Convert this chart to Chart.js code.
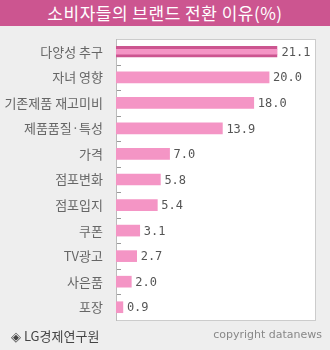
<!DOCTYPE html>
<html>
<head>
<meta charset="utf-8">
<script src="https://cdn.jsdelivr.net/npm/chart.js@4"></script>
<style>
  html, body { margin: 0; padding: 0; background: #eeeeee; }
  #wrap { position: relative; width: 330px; height: 350px; overflow: hidden; }
  #title {
    position: absolute; left: 0; top: 0; width: 330px; height: 26px;
    background: #cc5590; color: #fff; text-align: center;
    font: 17px "Noto Sans CJK KR", sans-serif; line-height: 26px; letter-spacing: 0.5px;
  }
  #src { position: absolute; left: 11px; top: 326px; font: 13px "Noto Sans CJK KR", sans-serif; color: #444; }
  #copy { position: absolute; right: 8px; top: 328px; font: 11px "DejaVu Sans", sans-serif; color: #888; }
  canvas { position: absolute; left: 0; top: 0; }
</style>
</head>
<body>
<div id="wrap">
  <canvas id="barChart" width="330" height="350"></canvas>
  <div id="title">소비자들의 브랜드 전환 이유(%)</div>
  <div id="src">◈ LG경제연구원</div>
  <div id="copy">copyright datanews</div>
</div>
<script>
const categories = ["다양성 추구", "자녀 영향", "기존제품 재고미비", "제품품질·특성", "가격",
    "점포변화", "점포입지", "쿠폰", "TV광고", "사은품", "포장"];
const shares = [21.1, 20.0, 18.0, 13.9, 7.0, 5.8, 5.4, 3.1, 2.7, 2.0, 0.9];

// white plot box, frame and small inner tick marks
const plotFrame = {
    id: "plotFrame",
    beforeDraw(chart) {
        const { ctx, chartArea: a } = chart;
        ctx.save();
        ctx.fillStyle = "#ffffff";
        ctx.fillRect(a.left, a.top, a.right - a.left, a.bottom - a.top);
        ctx.strokeStyle = "#cccccc";
        ctx.lineWidth = 1;
        ctx.strokeRect(a.left + 0.5, a.top + 0.5, a.right - a.left, a.bottom - a.top);
        ctx.strokeStyle = "#bbbbbb";
        ctx.beginPath();
        ctx.moveTo(a.left + 0.5, a.top);
        ctx.lineTo(a.left + 0.5, a.bottom + 1);
        ctx.stroke();
        const y = chart.scales.y;
        ctx.strokeStyle = "#999999";
        ctx.beginPath();
        for (let i = 0; i < categories.length - 1; i++) {
            const py = Math.round((y.getPixelForValue(i) + y.getPixelForValue(i + 1)) / 2) + 0.5;
            ctx.moveTo(a.left + 1, py);
            ctx.lineTo(a.left + 5, py);
        }
        ctx.stroke();
        ctx.restore();
    }
};

const valueLabels = {
    id: "valueLabels",
    afterDatasetsDraw(chart) {
        const { ctx } = chart;
        const meta = chart.getDatasetMeta(0);
        ctx.save();
        ctx.font = "12px 'DejaVu Sans Mono', monospace";
        ctx.fillStyle = "#555555";
        ctx.textBaseline = "middle";
        meta.data.forEach((bar, i) => {
            ctx.fillText(shares[i].toFixed(1), bar.x + 4, bar.y + 1);
        });
        ctx.restore();
    }
};

new Chart(document.getElementById("barChart").getContext("2d"), {
    type: "bar",
    data: {
        labels: categories,
        datasets: [{
            data: shares,
            backgroundColor: "#f495c5",
            borderColor: "#cc5590",
            borderWidth: shares.map((v, i) => i === 0 ? { top: 3, bottom: 3, left: 0, right: 0 } : 0),
            borderSkipped: false,
            barThickness: 11
        }]
    },
    options: {
        indexAxis: "y",
        responsive: false,
        animation: false,
        layout: { padding: { top: 39, bottom: 30, right: 15, left: 0 } },
        plugins: { legend: { display: false }, tooltip: { enabled: false } },
        scales: {
            x: { display: false, min: 0, max: 26 },
            y: {
                afterFit(scale) { scale.width = 116; },
                border: { display: false },
                grid: { display: false },
                ticks: {
                    padding: 5,
                    color: "#666666",
                    font: { family: "'Noto Sans CJK KR', sans-serif", size: 13 }
                }
            }
        }
    },
    plugins: [plotFrame, valueLabels]
});
</script>
</body>
</html>
